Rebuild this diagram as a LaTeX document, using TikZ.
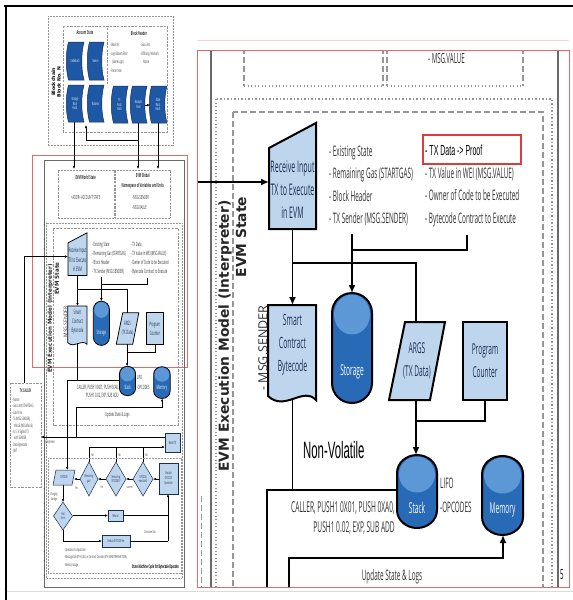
\documentclass[tikz,border=0pt]{standalone}
\usepackage{fontspec}
\usetikzlibrary{arrows.meta}
\newfontfamily\cond{Open Sans}[FakeStretch=0.44]
\newfontfamily\plainsans{Open Sans}
\newfontfamily\arn{Liberation Sans}[FakeStretch=0.48]
\newfontfamily\djv{DejaVu Sans}
\newcommand\fs[2]{\fontsize{#1}{#2}\selectfont}
\newif\ifthumb

\definecolor{lb}{RGB}{190,214,237}
\definecolor{db}{RGB}{40,106,182}
\definecolor{dbt}{RGB}{92,152,214}
\definecolor{sdb}{RGB}{30,88,165}
\definecolor{navy}{RGB}{28,46,84}
\definecolor{txt}{RGB}{50,50,50}
\definecolor{frg}{RGB}{150,150,150}
\definecolor{frs}{RGB}{105,105,105}
\definecolor{rd}{RGB}{222,60,60}
\definecolor{rdl}{RGB}{230,105,105}

% line looks for the full-size view
\newcommand\mainstyles{\tikzset{
  conn/.style={line width=1.7pt, draw=black},
  arr/.style={-{Latex[length=8pt,width=7pt]}},
  outl/.style={line width=2pt, draw=black},
  dshG/.style={line width=1.1pt, draw=frg, dash pattern=on 6pt off 3pt},
  dotG/.style={line width=1.3pt, draw=frg, dash pattern=on 1.3pt off 2.2pt},
  solG/.style={line width=1.1pt, draw=frs},
  thin/.style={line width=1.2pt, draw=navy},
}}
% line looks for the small overview
\newcommand\thumbstyles{\tikzset{
  conn/.style={line width=0.65pt, draw=black},
  arr/.style={-{Latex[length=3pt,width=2.6pt]}},
  outl/.style={line width=0.75pt, draw=black},
  dshG/.style={line width=0.5pt, draw=frg, dash pattern=on 2.4pt off 1.2pt},
  dotG/.style={line width=0.55pt, draw=frg, dash pattern=on 0.6pt off 0.9pt},
  solG/.style={line width=0.6pt, draw=frs},
  thin/.style={line width=0.5pt, draw=navy},
}}

% capsule-shaped data store: x0, y0, width, height, end radius, label, label y
\newcommand\cylinder[7]{%
  \fill[db] (#1,{#2+#5}) .. controls (#1,{#2+0.448*#5}) and ({#1+0.224*#3},#2) .. ({#1+0.5*#3},#2)
    .. controls ({#1+0.776*#3},#2) and ({#1+#3},{#2+0.448*#5}) .. ({#1+#3},{#2+#5})
    -- ({#1+#3},{#2+#4-#5}) .. controls ({#1+#3},{#2+#4-0.448*#5}) and ({#1+0.776*#3},{#2+#4}) .. ({#1+0.5*#3},{#2+#4})
    .. controls ({#1+0.224*#3},{#2+#4}) and (#1,{#2+#4-0.448*#5}) .. (#1,{#2+#4-#5}) -- cycle;
  \fill[dbt] ({#1+0.5*#3},{#2+#5+1.5}) ellipse [x radius={0.5*#3-2}, y radius={#5}];
  \draw[outl] (#1,{#2+#5}) .. controls (#1,{#2+0.448*#5}) and ({#1+0.224*#3},#2) .. ({#1+0.5*#3},#2)
    .. controls ({#1+0.776*#3},#2) and ({#1+#3},{#2+0.448*#5}) .. ({#1+#3},{#2+#5})
    -- ({#1+#3},{#2+#4-#5}) .. controls ({#1+#3},{#2+#4-0.448*#5}) and ({#1+0.776*#3},{#2+#4}) .. ({#1+0.5*#3},{#2+#4})
    .. controls ({#1+0.224*#3},{#2+#4}) and (#1,{#2+#4-0.448*#5}) .. (#1,{#2+#4-#5}) -- cycle;
  \node[font=\cond\fs{15}{18}, text=white] at ({#1+0.5*#3},#7) {#6};
}

% stored-data block of the block header: x0, y0, x1, y1, label
\newcommand\sdata[5]{%
  \filldraw[fill=sdb, draw=navy, line width=0.5pt] ({#1+2.5},#2) -- (#3,#2)
    .. controls ({#3-3},{#2+0.3*(#4-#2)}) and ({#3-3},{#4-0.3*(#4-#2)}) .. (#3,#4)
    -- ({#1+2.5},#4)
    .. controls ({#1-0.5},{#4-0.3*(#4-#2)}) and ({#1-0.5},{#2+0.3*(#4-#2)}) .. ({#1+2.5},#2) -- cycle;
  \node[font=\cond\fs{4.3}{4.8}, text=white, align=center] at ({(#1+#3)/2},{(#2+#4)/2}) {#5};
}

% decision diamond: cx, cy, half width, half height, label
\newcommand\dia[5]{%
  \filldraw[fill=lb, thin] (#1,{#2-#4}) -- ({#1+#3},#2) -- (#1,{#2+#4}) -- ({#1-#3},#2) -- cycle;
  \node[font=\cond\fs{4}{4.6}, text=navy, align=center] at (#1,#2) {#5};
}

% the EVM execution model, drawn at full size
\newcommand\evmcore{%
  \draw[solG] (211,-58) rectangle (558,1004);
  \draw[dotG] (216,99) rectangle (552,982);
  \draw[dshG] (233,112) rectangle (543,601);
  \draw[dshG] (244,-33) -- (244,86) (383,-33) -- (383,86) (387,-33) -- (387,86) (523,-33) -- (523,86);
  \draw[dotG] (244,-33) -- (383,-33) (244,86) -- (383,86) (387,-33) -- (523,-33) (387,86) -- (523,86);
  \ifthumb
    \node[font=\cond\bfseries\fs{14}{16}, text=txt] at (313,-16) {EVM World State};
    \node[font=\cond\fs{14}{16}, text=txt] at (313,34) {<ADDR> ACCOUNT STATE};
    \node[font=\cond\bfseries\fs{14}{26}, text=txt, align=center] at (455,-6) {EVM Global\\Namespace of Variables and Units};
    \node[font=\cond\fs{14}{16}, text=txt, anchor=west, inner sep=0] at (428,34) {- MSG.SENDER};
  \fi
  \node[font=\cond\fs{14}{16}, text=txt, anchor=west, inner sep=0] at (428,59) {- MSG.VALUE};
  \node[rotate=90, font=\djv\bfseries\fs{13.8}{16}, text=black!85] at (225,336) {EVM Execution Model (Interpreter)};
  \node[rotate=90, font=\djv\bfseries\fs{13.8}{16}, text=black!85] at (241,237) {EVM State};
  % input
  \filldraw[fill=lb, outl] (269,148) -- (316,123) -- (316,229) -- (269,229) -- cycle;
  \node[font=\cond\fs{16}{23}, text=navy, align=center] at (292.5,190) {Receive Input\\TX to Execute\\in EVM};
  \node[font=\cond\fs{14.5}{22.5}, text=txt, align=left, anchor=west, inner sep=0] at (329,186)
    {- Existing State\\- Remaining Gas (STARTGAS)\\- Block Header\\- TX Sender (MSG.SENDER)};
  \ifthumb
    \node[font=\cond\fs{14.5}{22.5}, text=txt, anchor=west, inner sep=0] at (425,152) {- TX Data};
  \fi
  \node[font=\cond\fs{14.5}{22.5}, text=txt, align=left, anchor=west, inner sep=0] at (425,197)
    {- TX Value in WEI (MSG.VALUE)\\- Owner of Code to be Executed\\- Bytecode Contract to Execute};
  % code, storage, arguments, counter
  \filldraw[fill=lb, outl] (268,305) -- (316,305) -- (316,400) .. controls (303,386) and (285,412) .. (268,396) -- cycle;
  \node[font=\cond\fs{15.5}{23}, text=navy, align=center] at (292.5,345) {Smart\\Contract\\Bytecode};
  \node[rotate=90, font=\plainsans\fs{12.5}{14}, text=txt] at (263,348) {- MSG.SENDER};
  \cylinder{332}{293}{40}{110}{20}{Storage}{372}
  \filldraw[fill=lb, outl] (405,322) -- (445,322) -- (430,400) -- (389,400) -- cycle;
  \node[font=\cond\fs{15}{23}, text=navy, align=center] at (417,361) {ARGS\\(TX Data)};
  \filldraw[fill=lb, outl] (463,322) rectangle (507,400);
  \node[font=\cond\fs{15}{23}, text=navy, align=center] at (485,361) {Program\\Counter};
  % volatile part
  \cylinder{397}{455}{40}{73}{18}{Stack}{508}
  \cylinder{482}{456}{41}{79}{18}{Memory}{510}
  \node[font=\cond\fs{15}{20}, text=txt, align=right, anchor=east, inner sep=0] at (395,518)
    {CALLER, PUSH1 0X01, PUSH 0XA0,\\PUSH1 0.02, EXP, SUB ADD};
  \node[font=\cond\fs{14.5}{24}, text=txt, align=left, anchor=west, inner sep=0] at (440,495) {LIFO\\-OPCODES};
  \node[font=\cond\fs{14.5}{18}, text=txt] at (392,577) {Update State \& Logs};
  % connectors
  \draw[conn, arr] (159.5,496) -- (159.5,182) -- (269,182);
  \draw[conn, arr] (292.5,229) -- (292.5,305);
  \draw[conn] (292.5,263) -- (416,263) -- (416,322);
  \draw[conn, arr] (352,234) -- (352,293);
  \draw[conn] (467,235) -- (467,250) -- (352,250);
  \draw[conn, arr] (416,400) -- (416,455);
  \draw[conn] (485,400) -- (485,421) -- (416,421);
  \draw[conn] (292.5,398) -- (292.5,490);
  \draw[conn, arr] (397,490) -- (267,490) -- (267,713);
  \draw[conn, arr] (289,631) -- (289,558) -- (503,558) -- (503,535);
}

\begin{document}
\begin{tikzpicture}[x=1pt,y=-1pt]
\useasboundingbox (0,0) rectangle (573,600);
\fill[white] (0,0) rectangle (573,600);
\mainstyles
\thumbfalse
% full-size view of the execution model
\begin{scope}
  \clip (197,50) rectangle (569,587);
  \evmcore
  \draw[dshG] (201.7,496) -- (201.7,600);
\end{scope}
\node[font=\arn\fs{23.7}{26}, anchor=west, inner sep=0] at (303,450) {Non-Volatile};
\filldraw[fill=white, draw=rd, line width=1.5pt] (423,135) rectangle (521,164);
\node[font=\arn\fs{14.6}{16}, anchor=west, inner sep=0] at (425,150) {- TX Data -> Proof};
\draw[rdl, line width=1pt] (197,50) rectangle (569,587);
\node[font=\cond\fs{14}{16}] at (562,575) {5};
\draw[rdl!30, line width=0.8pt] (197,40) -- (569,40);
\draw[black!14, line width=0.8pt] (6,591) -- (573,591);
% page frame
\draw[line width=2.6pt] (4,6) -- (573,6);
\draw[line width=2.6pt] (6,4.7) -- (6,600);

% ---------- overview of the whole diagram ----------
\thumbstyles
\thumbtrue
\draw[rdl, line width=0.8pt] (32,155) rectangle (187,367);
\begin{scope}[shift={(-40.1,183.4)}, scale=0.402, transform shape]
  \evmcore
\end{scope}

% block of the chain
\draw[dotG] (48,16) rectangle (173,145);
\draw[dshG] (63,26) rectangle (167,132);
\draw[dshG] (107,28) -- (107,84);
\node[rotate=90, font=\djv\bfseries\fs{4.6}{5}] at (53.5,82) {Blockchain};
\node[rotate=90, font=\djv\bfseries\fs{4.6}{5}] at (59,82) {Block No. N};
\node[font=\cond\bfseries\fs{5.5}{6}, text=txt] at (85,33) {Account State};
\node[font=\cond\bfseries\fs{5.5}{6}, text=txt] at (139,33) {Block Header};
\sdata{66}{42}{84}{80}{Codehash}
\sdata{87}{42}{104}{80}{Nonce}
\sdata{66}{85}{84}{122}{Storage\\Root\\Hash}
\sdata{87}{85}{104}{122}{Balance}
\sdata{111}{86}{128}{123}{TX\\Root\\Hash}
\sdata{130}{86}{147}{123}{Receipts\\Root}
\sdata{149}{86}{167}{123}{State\\Root\\Hash}
\node[font=\cond\fs{4.6}{8.5}, text=txt, align=left, anchor=north west, inner sep=0] at (110,43)
  {- Block Nr.\\- Logs Bloom Filter\\\hspace{2pt}(Some Logs)\\- Parent Has};
\node[font=\cond\fs{4.6}{8.5}, text=txt, align=left, anchor=north west, inner sep=0] at (140,43)
  {- Gas Limit\\- Difficulty, Mixhash,\\\hspace{3pt}Nonce};
\draw[conn, arr] (145,105) -- (150,105);
\draw[conn, arr] (74,122) -- (74,169);
\draw[conn, arr] (138,123) -- (138,169);
\draw[conn, arr] (158,123) -- (158,169);
\draw[conn, arr] (138,140) -- (86,140) -- (86,125);

% transaction caller
\draw[dshG] (10,383) rectangle (41,487);
\node[font=\cond\bfseries\fs{5}{6}, text=txt] at (25.5,391) {TX CALLER};
\node[font=\cond\fs{4.6}{6.4}, text=txt, align=left, anchor=north west, inner sep=0] at (12,398)
  {- Nonce\\- Gas Limit (STARTGAS)\\- Gas Price\\- To (MSG.SENDER),\\\hspace{2pt}VALUE (MSG.VALUE)\\- R, S, V Signed TX\\\hspace{2pt}with SENDER\\- Data Bytecode\\- INIT};

% reset path
\filldraw[fill=lb, thin] (165,433) rectangle (180,452);
\node[font=\cond\fs{4.3}{5}, text=navy] at (172.5,442.5) {Reset TX};
\draw[conn, arr] (165,437) -- (41,437);
\node[font=\cond\fs{4.3}{5}, text=txt] at (50,442) {Jump Here};
\draw[conn] (89,462) -- (89,447) (116,462) -- (116,447) (143,462) -- (143,447);
\draw[conn, arr] (89,447) -- (165,447);
\foreach \nx in {92.5,119.5,146.5} \node[font=\cond\fs{4}{5}, text=txt] at (\nx,455) {No};

% opcode state machine
\draw[dotG] (48,458) rectangle (181,573);
\filldraw[fill=lb, thin] (56,470) -- (75,470) -- (72,485) -- (53,485) -- cycle;
\node[font=\cond\fs{4}{5}, text=navy] at (64,477.5) {OPCODE};
\dia{89}{479}{9}{17}{Remaining\\gas?}
\dia{116}{479}{10}{17}{Remaining\\OPCODES?}
\dia{143}{479}{10}{17}{OPCODE\\executed?}
\filldraw[fill=lb, thin] (159,463) rectangle (178,494);
\node[font=\cond\fs{4}{4.8}, text=navy, align=center] at (168.5,478.5) {Execute\\OPCODE\\Operation};
\draw[conn, arr] (159,479) -- (153,479);
\draw[conn, arr] (133,479) -- (126,479);
\draw[conn, arr] (106,479) -- (98,479);
\draw[conn, arr] (80,479) -- (74,479);
\node[font=\cond\fs{3.8}{4.5}, text=txt] at (129.5,487) {success};
\node[font=\cond\fs{3.8}{4.5}, text=txt] at (102,487) {Yes};
\node[font=\cond\fs{3.8}{4.5}, text=txt] at (76.5,488) {Yes};
\dia{63}{516}{9.5}{14}{Halt\\Error}
\draw[conn, arr] (63,485) -- (63,502);
\node[font=\cond\fs{4}{5}, text=txt, align=center] at (54,497) {Charging\\Storage};
\filldraw[fill=lb, thin] (108,510) rectangle (123,521);
\node[font=\cond\fs{4}{5}, text=navy] at (115.5,515.5) {Refund};
\draw[conn, arr] (72.5,515.5) -- (108,515.5);
\draw[conn] (123,515.5) -- (168,515.5);
\filldraw[fill=lb, thin] (102,535) rectangle (130,547);
\node[font=\cond\fs{4}{5}, text=navy] at (116,541) {Deduct OPCODE Fee};
\draw[conn, arr] (63,530) -- (63,541) -- (102,541);
\draw[conn] (130,541) -- (168,541);
\draw[conn, arr] (168,541) -- (168,494);
\node[font=\cond\fs{4}{5}, text=txt] at (150,532) {Consume Gas};
\node[font=\cond\fs{4.2}{7.5}, text=txt, align=left, anchor=north west, inner sep=0] at (64,548)
  {- Operation Computation\\- Message Call (ETH CALL) or Contract Creation (ETH SENDTRANSACTION)\\- Memory Usage};
\node[font=\cond\bfseries\fs{5}{6}, text=black, anchor=east, inner sep=0] at (179,567) {State Machine Cycle for Bytecode Opcodes};
\end{tikzpicture}
\end{document}
